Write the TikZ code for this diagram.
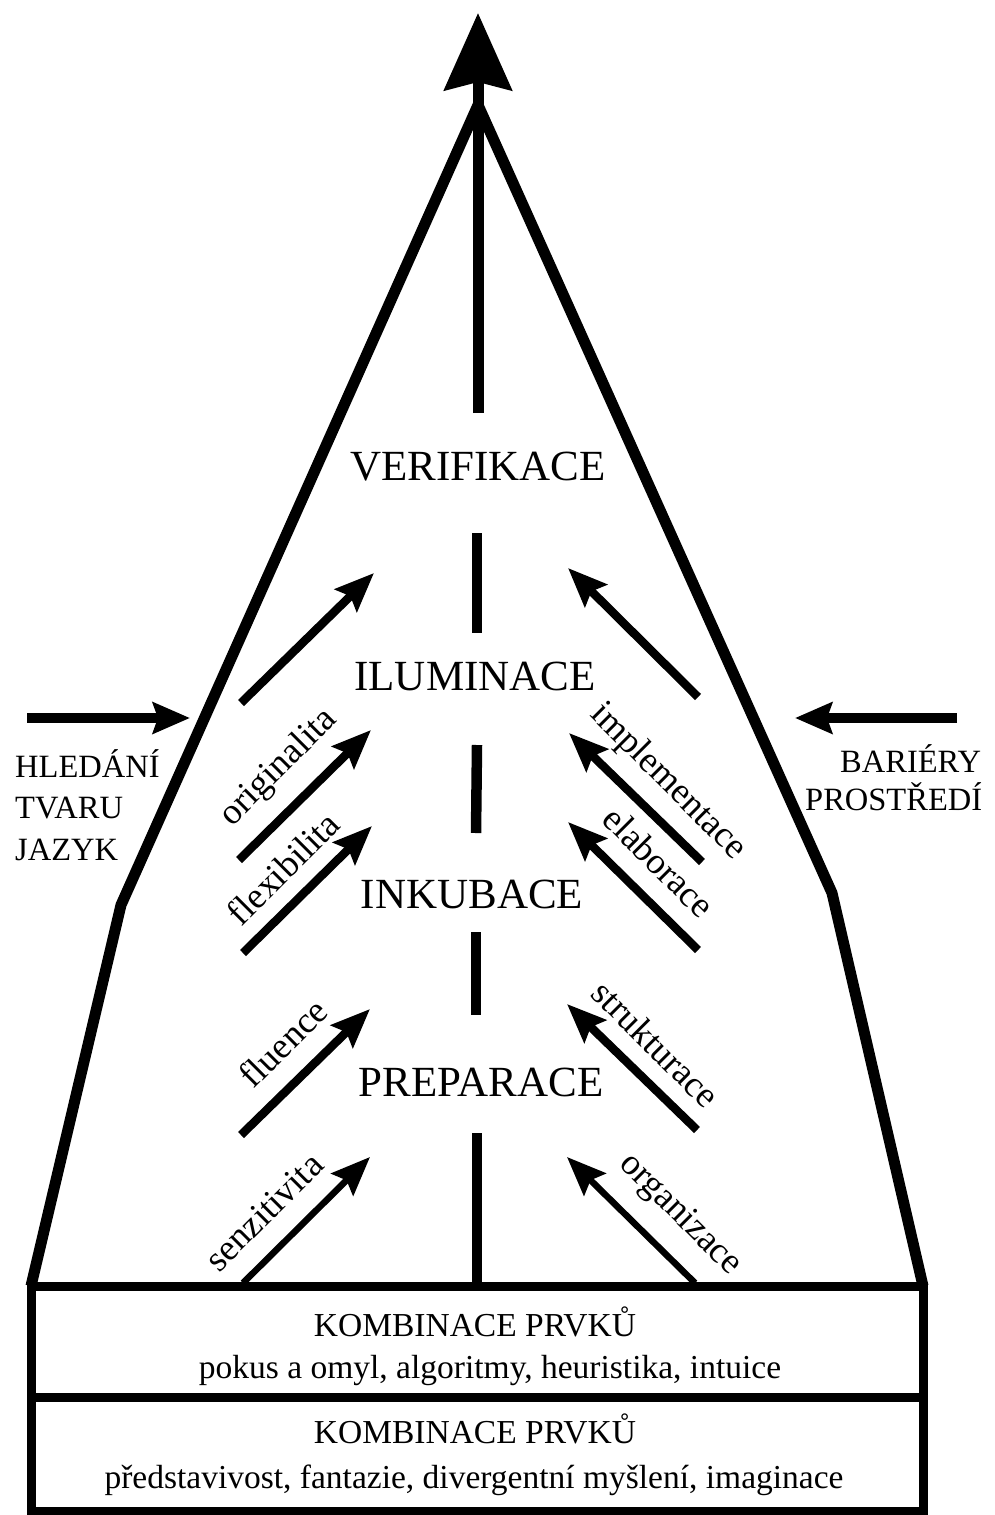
\documentclass[tikz,border=0pt]{standalone}
\usepackage{fontspec}
\setmainfont{Liberation Serif}
\usetikzlibrary{arrows.meta}
\begin{document}
\begin{tikzpicture}[x=1pt,y=-1pt,
  outline/.style={line width=11pt, line join=round},
  boxline/.style={line width=9pt},
  dashseg/.style={line width=10.5pt},
  stage/.style={font=\fontsize{43}{50}\selectfont, inner sep=0pt, anchor=base},
  boxtext/.style={font=\fontsize{33.5}{40}\selectfont, inner sep=0pt, anchor=base},
  side/.style={font=\fontsize{32.5}{40}\selectfont, inner sep=0pt, anchor=base west},
  diag/.style={font=\fontsize{36.5}{40}\selectfont, inner sep=0pt},
  diagarrow/.style={line width=8.5pt, -{Stealth[length=39pt,width=31pt,inset=6pt]}},
  thinarrow/.style={line width=6.5pt, -{Stealth[length=39pt,width=31pt,inset=6pt]}},
  sidearrow/.style={line width=10pt, -{Stealth[length=37pt,width=31pt,inset=5pt]}},
  mainarrow/.style={line width=11pt, -{Stealth[length=77pt,width=67pt,inset=8pt]}}
]
\useasboundingbox (0,0) rectangle (994,1515);
\fill[white] (0,0) rectangle (994,1515);

% outline coordinates
\coordinate (bl) at (31,1286);
\coordinate (kl) at (121,905);
\coordinate (apex) at (478,105);
\coordinate (kr) at (832,893);
\coordinate (br) at (923,1286);
\coordinate (bbl) at (31,1511);
\coordinate (bbr) at (923,1511);
\coordinate (dl) at (31,1397);
\coordinate (dr) at (923,1397);

% outer shape
\draw[outline] (bl) -- (kl) -- (apex) -- (kr) -- (br);
\draw[boxline] (bl) rectangle (bbr);
\draw[boxline] (dl) -- (dr);

% main arrow
\coordinate (s0) at (478,413);
\coordinate (s1) at (478,13);
\draw[mainarrow] (s0) -- (s1);

% central dashes
\coordinate (d1a) at (477,533); \coordinate (d1b) at (477,633);
\coordinate (d2a) at (477,745); \coordinate (d2b) at (476,833);
\coordinate (d3a) at (476,932); \coordinate (d3b) at (476,1015);
\coordinate (d4a) at (477,1133); \coordinate (d4b) at (477,1283);
\draw[dashseg] (d1a) -- (d1b);
\draw[dashseg] (d2a) -- (d2b);
\draw[dashseg] (d3a) -- (d3b);
\draw[dashseg] (d4a) -- (d4b);

% stage labels
\node[stage] (ver) at (478,480) {VERIFIKACE};
\node[stage] (ilu) at (475,690) {ILUMINACE};
\node[stage] (ink) at (472,908) {INKUBACE};
\node[stage] (pre) at (481,1096) {PREPARACE};

% left diagonal arrows
\coordinate (l1a) at (241,703);  \coordinate (l1b) at (374,573);
\coordinate (l2a) at (239,860);  \coordinate (l2b) at (371,730);
\coordinate (l3a) at (243,953);  \coordinate (l3b) at (372,826);
\coordinate (l4a) at (241,1135); \coordinate (l4b) at (370,1009);
\coordinate (l5a) at (243,1283); \coordinate (l5b) at (370,1157);
\draw[diagarrow] (l1a) -- (l1b);
\draw[diagarrow] (l2a) -- (l2b);
\draw[diagarrow] (l3a) -- (l3b);
\draw[diagarrow] (l4a) -- (l4b);
\draw[thinarrow] (l5a) -- (l5b);

% right diagonal arrows
\coordinate (r1a) at (698,697);  \coordinate (r1b) at (568,568);
\coordinate (r2a) at (702,862);  \coordinate (r2b) at (569,733);
\coordinate (r3a) at (698,950);  \coordinate (r3b) at (568,822);
\coordinate (r4a) at (697,1130); \coordinate (r4b) at (567,1004);
\coordinate (r5a) at (695,1283); \coordinate (r5b) at (567,1157);
\draw[diagarrow] (r1a) -- (r1b);
\draw[diagarrow] (r2a) -- (r2b);
\draw[diagarrow] (r3a) -- (r3b);
\draw[diagarrow] (r4a) -- (r4b);
\draw[thinarrow] (r5a) -- (r5b);

% diagonal labels
\node[diag, rotate=45] (orig) at (279,768) {originalita};
\node[diag, rotate=45] (flex) at (283,868) {flexibilita};
\node[diag, rotate=45] (flu) at (283,1043) {fluence};
\node[diag, rotate=45] (senz) at (264,1212) {senzitivita};
\node[diag, rotate=-45] (impl) at (668,782) {implementace};
\node[diag, rotate=-45] (elab) at (659,862) {elaborace};
\node[diag, rotate=-45] (strk) at (656,1044) {strukturace};
\node[diag, rotate=-45] (orgz) at (680,1215) {organizace};

% side arrows and labels
\coordinate (la0) at (27,718);  \coordinate (la1) at (190,718);
\coordinate (ra0) at (957,718); \coordinate (ra1) at (795,718);
\draw[sidearrow] (la0) -- (la1);
\draw[sidearrow] (ra0) -- (ra1);
\node[side] (hl1) at (15,777) {HLEDÁNÍ};
\node[side] (hl2) at (15,818) {TVARU};
\node[side] (hl3) at (15,860) {JAZYK};
\node[side] (ba1) at (840,772) {BARIÉRY};
\node[side] (ba2) at (805,810) {PROSTŘEDÍ};

% box texts
\node[boxtext] (k1) at (475,1336) {KOMBINACE PRVKŮ};
\node[boxtext] (k1s) at (490,1378) {pokus a omyl, algoritmy, heuristika, intuice};
\node[boxtext] (k2) at (475,1443) {KOMBINACE PRVKŮ};
\node[boxtext] (k2s) at (474,1488) {představivost, fantazie, divergentní myšlení, imaginace};
\end{tikzpicture}
\end{document}
